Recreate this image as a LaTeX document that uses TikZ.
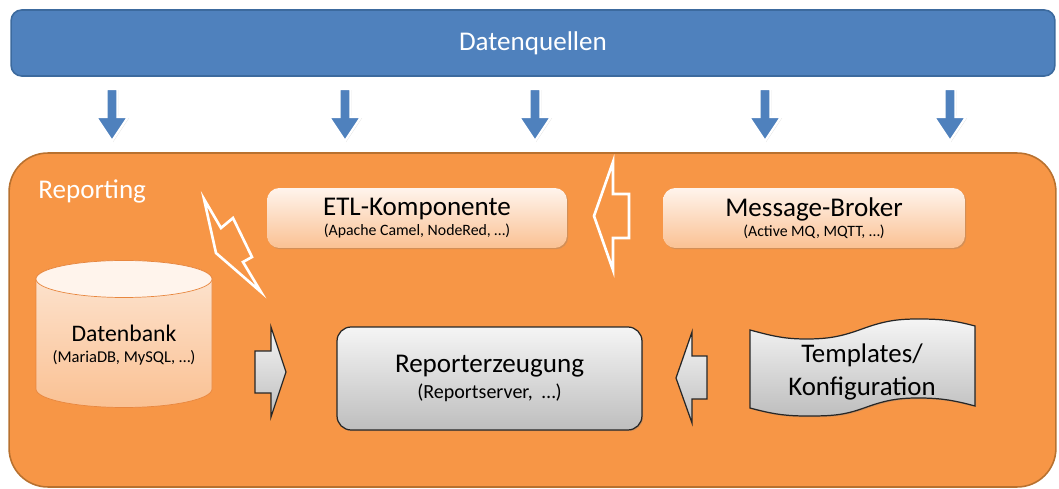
\documentclass[tikz,border=0pt]{standalone}
\usepackage{fontspec}
\setmainfont{Carlito}
\usetikzlibrary{shadows}

\definecolor{quellblau}{HTML}{4F81BD}
\definecolor{quellrand}{HTML}{3C6A9E}
\definecolor{orangeflaeche}{HTML}{F79646}
\definecolor{orangerand}{HTML}{B8712F}
\definecolor{pfirsichhell}{HTML}{FFF4EC}
\definecolor{pfirsich}{HTML}{FAC193}
\definecolor{zylinderhell}{HTML}{FDE6D4}
\definecolor{zylinderrand}{HTML}{E8873F}
\definecolor{grauhell}{HTML}{F5F5F5}
\definecolor{graudunkel}{HTML}{BEBEBE}

\newcommand\gross{\fontsize{15.4}{18}\selectfont}
\newcommand\klein{\fontsize{9}{11.2}\selectfont}

\def \pfeilDB{ (255,351) -- (271,351) -- (271,327) -- (286,372) -- (271,417) -- (271,393) -- (255,393) -- cycle }
\def \pfeilTpl{ (707,356) -- (692,356) -- (692,332) -- (676,378) -- (692,423) -- (692,399) -- (707,399) -- cycle }
\def \pfeilMB{ (629,194) -- (613,194) -- (613,162) -- (594,216) -- (613,270) -- (613,238) -- (629,238) -- cycle }
\def \blitz{ (204,199) -- (221,228) -- (233,218) -- (252,257) -- (243,262) -- (261,292) -- (216,253) -- cycle }
\def \zylinder{ (36,279) -- (36,389) arc[start angle=180, end angle=0, x radius=88, y radius=18.5] -- (212,279) arc[start angle=0, end angle=-180, x radius=88, y radius=18.5] -- cycle }
\def \band{ (750,330) to[out=-15,in=180] (806,339) to[out=0,in=200] (862,329) to[out=20,in=180] (918,319) to[out=0,in=165] (975,326) -- (975,406) to[out=165,in=0] (918,398) to[out=180,in=20] (864,408) to[out=200,in=0] (807,416) to[out=180,in=-15] (750,408) -- cycle }

\begin{document}
\begin{tikzpicture}[x=0.02cm, y=-0.02cm,
    quelle/.style={draw=quellrand, fill=quellblau, line width=0.9pt, rounded corners=6pt,
      text=white, font=\gross, minimum width=20.88cm, minimum height=1.32cm},
    bereich/.style={draw=orangerand, fill=orangeflaeche, line width=0.9pt, rounded corners=22pt,
      minimum width=20.94cm, minimum height=6.68cm},
    kasten/.style={top color=pfirsichhell, bottom color=pfirsich, rounded corners=7pt,
      minimum width=6.0cm, minimum height=1.2cm, align=center, font=\klein,
      drop shadow={shadow xshift=0.7pt, shadow yshift=-0.7pt, opacity=0.3}},
    grau/.style={draw=black!85, line width=0.7pt, top color=grauhell, bottom color=graudunkel},
    pfeilblau/.style={draw=white, line width=1.3pt, fill=quellblau,
      drop shadow={shadow xshift=0.6pt, shadow yshift=-0.6pt, opacity=0.25}}]

    \useasboundingbox (0,0) rectangle (1059,489);

    \node[quelle] (quellen) at (533,43) {Datenquellen};

    \foreach \x in {112,345,535,765,950}
      \draw[pfeilblau] (\x-5.5,89) -- (\x+5.5,89) -- (\x+5.5,117) -- (\x+16,117)
        -- (\x,141) -- (\x-16,117) -- (\x-5.5,117) -- cycle;

    \node[bereich] (reporting) at (532.5,320) {};
    \node[text=white, font=\gross, anchor=base west, inner sep=0pt] (replabel) at (38,199) {Reporting};

    \node[kasten] (etl) at (417,218) {{\gross ETL-Komponente}\\(Apache Camel, NodeRed, …)};
    \node[kasten, minimum width=6.04cm] (broker) at (814,218) {{\gross Message-Broker}\\(Active MQ, MQTT, …)};

    \draw[white, line width=1.5pt] \pfeilMB;
    \draw[white, line width=1.5pt] \blitz;

    % Datenbank
    \draw[zylinderrand, top color=zylinderhell, bottom color=pfirsich] \zylinder;
    \draw[zylinderrand, fill=pfirsichhell] (124,279) ellipse[x radius=88, y radius=18.5];
    \node[align=center, font=\fontsize{9.4}{12}\selectfont] (db) at (124,345)
      {{\fontsize{13.5}{16}\selectfont Datenbank}\\(MariaDB, MySQL, …)};

    \node[grau, rounded corners=8pt, minimum width=6.1cm, minimum height=2.06cm, align=center,
      font=\fontsize{11.4}{15}\selectfont,
      drop shadow={shadow xshift=0.7pt, shadow yshift=-0.7pt, opacity=0.3}] (erzeugung)
      at (489.5,378.5) {{\gross Reporterzeugung}\\(Reportserver,\ \ …)};

    \draw[grau] \pfeilDB;
    \draw[grau] \pfeilTpl;

    \draw[grau, drop shadow={shadow xshift=0.7pt, shadow yshift=-0.7pt, opacity=0.3}] \band;
    \node[align=center, font=\fontsize{15.3}{18.5}\selectfont] (templates) at (862,372)
      {Templates/\\Konfiguration};

\end{tikzpicture}
\end{document}
